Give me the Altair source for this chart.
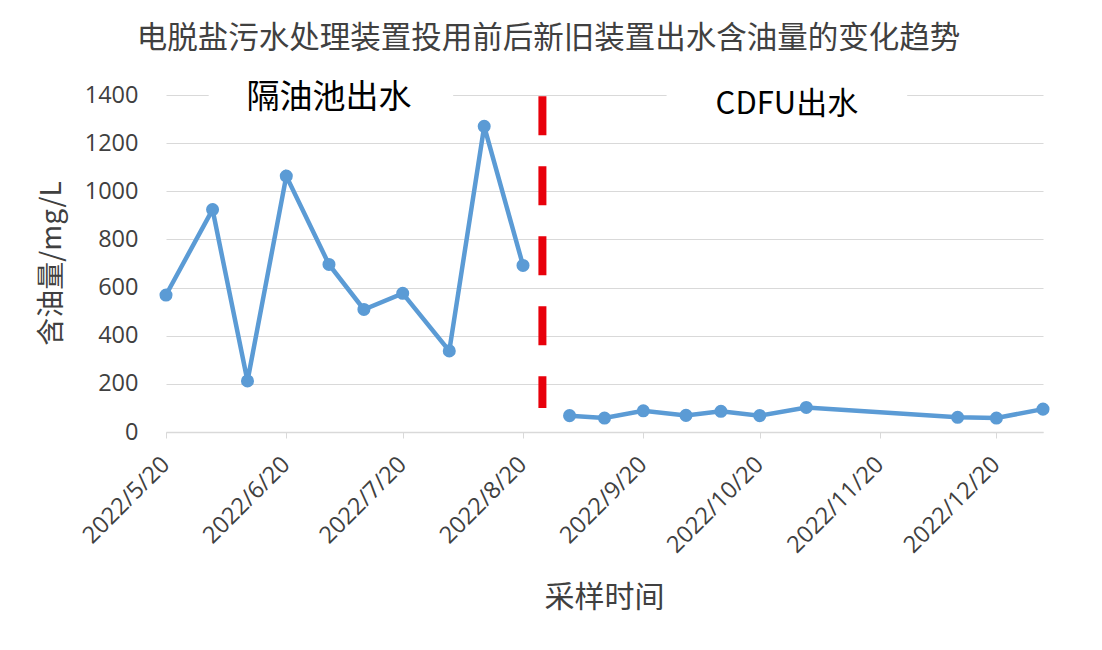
import altair as alt
import pandas as pd

# ---- data ----
dates = ["2022-05-20", "2022-06-01", "2022-06-10", "2022-06-20", "2022-07-01",
         "2022-07-10", "2022-07-20", "2022-08-01", "2022-08-10", "2022-08-20",
         "2022-09-01", "2022-09-10", "2022-09-20", "2022-10-01", "2022-10-10",
         "2022-10-20", "2022-11-01", "2022-12-10", "2022-12-20", "2023-01-01"]
values = [569, 924, 212, 1063, 696, 509, 576, 337, 1270, 692,
          68, 58, 88, 69, 86, 68, 102, 61, 58, 95]
stage = ["隔油池出水"] * 10 + ["CDFU出水"] * 10

tick_dates = ["2022-05-20", "2022-06-20", "2022-07-20", "2022-08-20", "2022-09-20",
              "2022-10-20", "2022-11-20", "2022-12-20"]
x_domain = ["2022-05-20", "2023-01-01"]
y_ticks = [0, 200, 400, 600, 800, 1000, 1200, 1400]

divider_date = ["2022-08-25"]
divider_low = [100]
divider_high = [1395]

label_text = ["隔油池出水", "CDFU出水"]
label_date = ["2022-07-01", "2022-10-27"]
label_value = [1387, 1357]
label_size = [33, 31]
label_box_start = ["2022-05-31", "2022-09-26"]
label_box_end = ["2022-08-02", "2022-11-27"]
label_box_low = [1370, 1370]
label_box_high = [1430, 1430]

FONT = "Open Sans, Noto Sans CJK SC"
CJK = "Noto Sans CJK SC"


def ms(d):
    return int(pd.Timestamp(d, tz="UTC").timestamp() * 1000)


df = pd.DataFrame({"date": dates, "value": values, "stage": stage})
div_df = pd.DataFrame({"date": divider_date, "lo": divider_low, "hi": divider_high})
lab_df = pd.DataFrame({"text": label_text, "date": label_date, "value": label_value,
                       "size": label_size})
box_df = pd.DataFrame({"s": label_box_start, "e": label_box_end,
                       "lo": label_box_low, "hi": label_box_high})

xscale = alt.Scale(type="utc", domain=[ms(d) for d in x_domain])
yscale = alt.Scale(domain=[0, 1400])

x_axis = alt.Axis(
    values=[ms(d) for d in tick_dates],
    labelExpr="utcFormat(datum.value, '%Y/%-m/%-d')",
    labelAngle=-45, labelFontSize=23.5, labelColor="#404040", labelFont=FONT,
    labelPadding=14, labelOffset=-9,
    grid=False, ticks=True, tickSize=6, tickColor="#d9d9d9",
    domainColor="#d9d9d9", domainWidth=1.5,
    title="采样时间", titleFont=CJK, titleFontSize=30, titleFontWeight="normal",
    titleColor="#404040", titleX=438, titleY=165, titleBaseline="middle",
    titleAlign="center",
)
y_axis = alt.Axis(
    values=y_ticks, format="d", labelFontSize=23.5, labelColor="#404040", labelFont=FONT,
    labelPadding=28, ticks=False, domain=False,
    grid=True, gridColor="#d9d9d9", gridWidth=1.2,
    title="含油量/mg/L", titleFont=CJK, titleFontSize=28, titleFontWeight="normal",
    titleColor="#404040", titleX=-114, titleY=168, titleAngle=-90,
    titleBaseline="middle", titleAlign="center",
)

line = alt.Chart(df).mark_line(color="#5B9BD5", strokeWidth=4.5).encode(
    x=alt.X("date:T", scale=xscale, axis=x_axis),
    y=alt.Y("value:Q", scale=yscale, axis=y_axis),
    detail="stage:N",
)
points = alt.Chart(df).mark_point(filled=True, color="#5B9BD5", size=170, opacity=1).encode(
    x=alt.X("date:T", scale=xscale),
    y=alt.Y("value:Q", scale=yscale),
)
divider = alt.Chart(div_df).mark_rule(color="#E8000B", strokeWidth=8,
                                      strokeDash=[39, 31]).encode(
    x=alt.X("date:T", scale=xscale),
    y=alt.Y("hi:Q", scale=yscale),
    y2="lo:Q",
)
boxes = alt.Chart(box_df).mark_rect(color="white").encode(
    x=alt.X("s:T", scale=xscale),
    x2="e:T",
    y=alt.Y("lo:Q", scale=yscale),
    y2="hi:Q",
)
labels = alt.Chart(lab_df).mark_text(font=CJK, color="black",
                                     baseline="middle", align="center").encode(
    x=alt.X("date:T", scale=xscale),
    y=alt.Y("value:Q", scale=yscale),
    size=alt.Size("size:Q", scale=None, legend=None),
    text="text:N",
)

chart = alt.layer(line, divider, points, boxes, labels).properties(
    width=877, height=337,
    padding={"left": 158, "top": 87, "right": 51, "bottom": 210},
    autosize=alt.AutoSizeParams(type="none"),
    title=alt.Title("电脱盐污水处理装置投用前后新旧装置出水含油量的变化趋势",
                    font=CJK, fontSize=30.5, fontWeight="normal", color="#404040",
                    anchor="middle", dx=-56, offset=28, frame="group"),
    background="white",
).configure_view(stroke=None)

chart.save("out.html", embed_options={"renderer": "svg", "actions": False})
